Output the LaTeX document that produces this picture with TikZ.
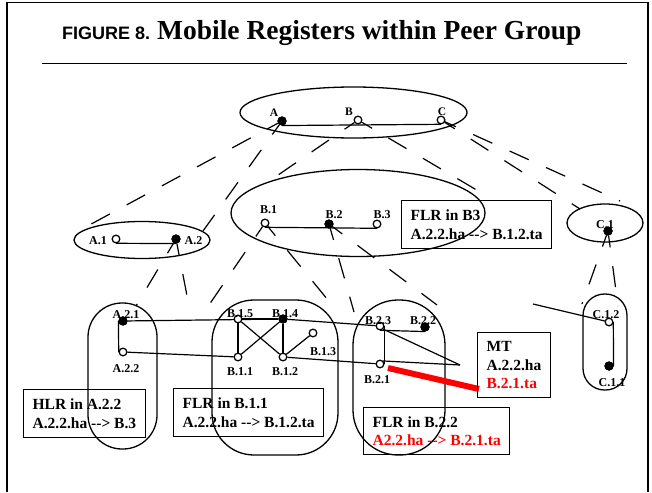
\documentclass[tikz,border=0pt]{standalone}
\usepackage{fontspec}
\setmainfont{Liberation Serif}
\newfontfamily\hvsans{Liberation Sans}
\usetikzlibrary{shapes.geometric}
\newcommand\arrowtxt{-\kern0pt-\kern0pt>}
\begin{document}
\begin{tikzpicture}[x=1pt,y=-1pt,
  every node/.style={inner sep=0pt},
  openhost/.style={circle, draw, line width=1.1pt, fill=white, minimum size=7.5pt},
  fullhost/.style={circle, draw, line width=1.1pt, fill=black, minimum size=8pt},
  lbl/.style={font=\bfseries\fontsize{12}{12}\selectfont},
  toplbl/.style={font=\bfseries\fontsize{11.5}{12}\selectfont},
  link/.style={line width=1.2pt},
  cone/.style={line width=1.2pt, dash pattern=on 21pt off 19pt, dash phase=9pt},
  grp/.style={draw, line width=1.3pt},
  oval/.style={grp, ellipse},
  infobox/.style={draw, line width=1.3pt, anchor=north west, align=left,
    inner xsep=9pt, font=\bfseries\fontsize{15.5}{18.5}\selectfont}
]
\useasboundingbox (0,0) rectangle (652,492);

% frame and heading
\draw[line width=1.5pt] (7,492) -- (7,2.5) -- (648,2.5) -- (648,492);
\node[anchor=base west, font=\hvsans\bfseries\fontsize{18}{18}\selectfont] (fig) at (62,40) {FIGURE 8.};
\node[anchor=base west, font=\bfseries\fontsize{27.5}{28}\selectfont] (ttl) at (157,40) {Mobile Registers within Peer Group};
\draw[line width=1pt] (42,64) -- (627,64);

% peer groups
\node[oval, minimum width=227pt, minimum height=51pt] (gTop) at (353.5,112.5) {};
\node[oval, minimum width=136pt, minimum height=37pt] (gA) at (142,240) {};
\node[oval, minimum width=254pt, minimum height=87pt] (gB) at (358,213) {};
\node[oval, minimum width=76pt, minimum height=38pt] (gC) at (605,223) {};
\node[grp, rounded corners=34pt, minimum width=69pt, minimum height=146pt] (gA2) at (122.5,376) {};
\node[grp, rounded corners=42pt, minimum width=126pt, minimum height=155pt] (gB1) at (275,377.5) {};
\node[grp, rounded corners=45pt, minimum width=92pt, minimum height=155pt] (gB2) at (399,377.5) {};
\node[grp, rounded corners=21.5pt, minimum width=44pt, minimum height=96pt] (gC1) at (605,342) {};

% hosts
\node[fullhost] (A) at (282,121) {};
\node[openhost] (B) at (358,120) {};
\node[openhost] (C) at (441,120) {};
\node[openhost] (A1) at (116,239) {};
\node[fullhost] (A2) at (176,239) {};
\node[openhost] (B1) at (265,223) {};
\node[fullhost] (B2) at (329,224) {};
\node[openhost] (B3) at (377,224) {};
\node[fullhost] (C1) at (608,231) {};
\node[fullhost] (A21) at (123,321) {};
\node[openhost] (A22) at (123,352) {};
\node[openhost] (B15) at (238,319) {};
\node[fullhost] (B14) at (283,319) {};
\node[openhost] (B11) at (238,357) {};
\node[openhost] (B12) at (283,357) {};
\node[openhost] (B13) at (313,333) {};
\node[openhost] (B23) at (380,326) {};
\node[fullhost] (B22) at (425,327) {};
\node[openhost] (B21) at (380,364) {};
\node[openhost] (C12) at (609,322) {};
\node[fullhost] (C11) at (609,366) {};

% end points of the hierarchy cones
\coordinate (tA1) at (82,229);
\coordinate (tA2) at (203,231);
\coordinate (tB1) at (268,182);
\coordinate (tB2) at (480,192);
\coordinate (tC1) at (580,209);
\coordinate (tC2) at (620,201);
\coordinate (tA21) at (136,306);
\coordinate (tA22) at (189,306);
\coordinate (tB11) at (209,305);
\coordinate (tB12) at (332,305);
\coordinate (tB21) at (354,312);
\coordinate (tB22) at (437,305);
\coordinate (tC11) at (582,304);
\coordinate (tC12) at (618,306);
\coordinate (mtEnd) at (460,365);
\coordinate (cIn) at (533,304);
\coordinate (redA) at (388,368);
\coordinate (redB) at (479,389);

% hierarchy cones
\draw[cone] (A) -- (tA1);
\draw[cone] (A) -- (tA2);
\draw[cone] (B) -- (tB1);
\draw[cone] (B) -- (tB2);
\draw[cone] (C) -- (tC1);
\draw[cone] (C) -- (tC2);
\draw[cone] (A2) -- (tA21);
\draw[cone] (A2) -- (tA22);
\draw[cone] (B1) -- (tB11);
\draw[cone] (B1) -- (tB12);
\draw[cone] (B2) -- (tB21);
\draw[cone] (B2) -- (tB22);
\draw[cone] (C1) -- (tC11);
\draw[cone] (C1) -- (tC12);

% links inside groups
\draw[link] (A.south) -- (C.south);
\draw[link] (A1.south) -- (A2.south);
\draw[link] (B1.south) -- (B3.south);
\draw[link] (A21.west) -- (A22.west);
\draw[link] (B15) -- (B14);
\draw[link] (B15) -- (B11);
\draw[link] (B14) -- (B12);
\draw[link] (B15) -- (B12);
\draw[link] (B14) -- (B11);
\draw[link] (B12) -- (B13);
\draw[link] (B23.south) -- (B22.south);
\draw[link] (B23.east) -- (B21.east);
\draw[link] (C12.east) -- (C11.east);
% links between groups
\draw[link] (A21) -- (B14);
\draw[link] (B14) -- (B23);
\draw[link] (A22) -- (B11);
\draw[link] (B12) -- (B21);
\draw[link] (B23.south east) -- (mtEnd);
\draw[link] (B21.north east) -- (mtEnd);
\draw[link] (cIn) -- (C12);
\draw[red, line width=6pt] (redA) -- (redB);

% redraw hosts above the links
\foreach \h in {B,C,A1,B1,B3,A22,B15,B11,B12,B13,B23,B21,C12}
  \node[openhost] at (\h) {};

% host labels
\node[toplbl] at (274,113) {A};
\node[toplbl] at (349,112) {B};
\node[toplbl] at (442,112) {C};
\node[lbl] at (98,241) {A.1};
\node[lbl] at (193.5,241) {A.2};
\node[lbl] at (268.5,210) {B.1};
\node[lbl] at (334,215) {B.2};
\node[lbl] at (382,215) {B.3};
\node[lbl] at (605,225) {C.1};
\node[lbl] at (126,315) {A.2.1};
\node[lbl] at (126,369) {A.2.2};
\node[lbl] at (240,314) {B.1.5};
\node[lbl] at (285,314) {B.1.4};
\node[lbl] at (240,372) {B.1.1};
\node[lbl] at (285,372) {B.1.2};
\node[lbl] at (323,351.5) {B.1.3};
\node[lbl] at (378,321) {B.2.3};
\node[lbl] at (423,321) {B.2.2};
\node[lbl] at (377,380) {B.2.1};
\node[lbl] at (606,315) {C.1.2};
\node[lbl] at (612,383) {C.1.1};

% filled hosts on top of their labels
\foreach \h in {A,A2,B2,C1,A21,B14,B22,C11}
  \node[fullhost] at (\h) {};

% register tables
\node[infobox, minimum height=48pt] (hlrA) at (23,389)
  {HLR in A.2.2\\A.2.2.ha \arrowtxt{} B.3};
\node[infobox, minimum height=48pt] (flrB11) at (173,388)
  {FLR in B.1.1\\A.2.2.ha \arrowtxt{} B.1.2.ta};
\node[infobox, minimum height=48pt] (flrB3) at (401,200)
  {FLR in B3\\A.2.2.ha \arrowtxt{} B.1.2.ta};
\node[infobox, minimum height=47pt] (flrB22) at (363,407)
  {FLR in B.2.2\\\textcolor{red}{A2.2.ha \arrowtxt{} B.2.1.ta}};
\node[infobox, minimum height=65pt] (mt) at (477,332)
  {MT\\A.2.2.ha\\\textcolor{red}{B.2.1.ta}};
\end{tikzpicture}
\end{document}
